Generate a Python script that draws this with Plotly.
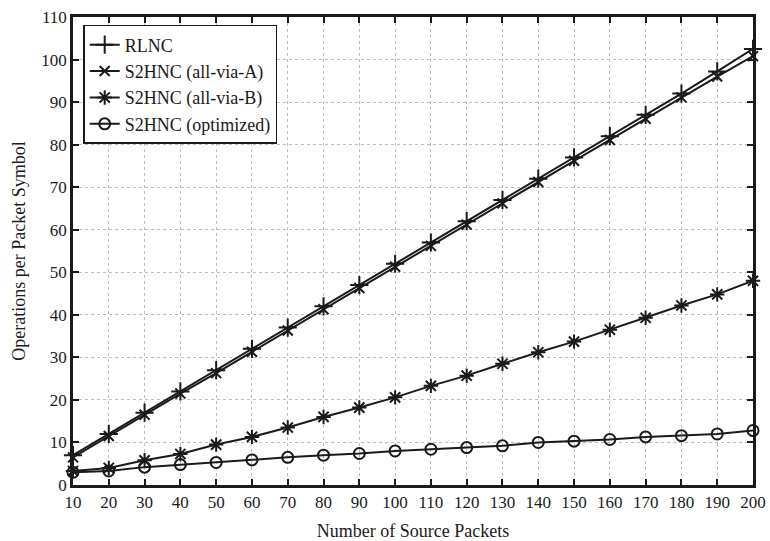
import plotly.graph_objects as go

packets = [10, 20, 30, 40, 50, 60, 70, 80, 90, 100, 110, 120, 130, 140, 150, 160, 170, 180, 190, 200]
rlnc = [7, 12, 17, 22, 27, 32, 37, 42, 47, 52, 57, 62, 67, 72, 77, 82, 87, 92, 97.2, 102.5]
via_a = [6.5, 11.5, 16.5, 21.5, 26.3, 31.3, 36.3, 41.3, 46.3, 51.3, 56.2, 61.2, 66.2, 71.2, 76.2, 81.1, 86.1, 91.1, 96, 100.8]
via_b = [3.3, 4.0, 5.8, 7.3, 9.5, 11.3, 13.5, 16.0, 18.2, 20.6, 23.3, 25.7, 28.5, 31.2, 33.7, 36.5, 39.3, 42.2, 44.8, 48.0]
optimized = [3.0, 3.3, 4.2, 4.8, 5.3, 5.9, 6.5, 7.0, 7.4, 8.0, 8.4, 8.8, 9.2, 10.0, 10.3, 10.7, 11.3, 11.6, 12.0, 12.8]

names = ["RLNC", "S2HNC (all-via-A)", "S2HNC (all-via-B)", "S2HNC (optimized)"]
series = [rlnc, via_a, via_b, optimized]
symbols = ["cross-thin", "x-thin", "asterisk", "circle-open"]
sizes = [13, 10, 12, 11]

ink = "#1a1a1a"
fig = go.Figure()
for name, ys, sym, sz in zip(names, series, symbols, sizes):
    fig.add_trace(go.Scatter(
        x=packets, y=ys, name=name, mode="lines+markers",
        line=dict(color=ink, width=2),
        marker=dict(symbol=sym, size=sz, color=ink, line=dict(color=ink, width=2)),
        cliponaxis=False,
    ))

font = "Liberation Serif, Times New Roman, serif"
axis_common = dict(
    showline=True, linecolor=ink, linewidth=2.5, mirror="ticks",
    ticks="inside", ticklen=6, tickwidth=2, tickcolor=ink,
    showgrid=True, gridcolor="#bdbdbd", griddash="dot", gridwidth=1,
    zeroline=False, tickfont=dict(family=font, size=17, color=ink),
    automargin=False,
)
fig.update_xaxes(range=[10, 200], tickvals=packets, ticklabelstandoff=0,
                 title=dict(text="Number of Source Packets", font=dict(family=font, size=18, color=ink), standoff=30), **axis_common)
fig.update_yaxes(range=[0, 110], tickvals=list(range(0, 111, 10)),
                 title=dict(text="Operations per Packet Symbol", font=dict(family=font, size=18, color=ink), standoff=12), **axis_common)

fig.update_layout(
    width=770, height=541,
    margin=dict(l=73, r=17, t=17, b=56),
    plot_bgcolor="white", paper_bgcolor="white",
    font=dict(family=font, size=18, color=ink),
    legend=dict(x=0.015, y=0.983, xanchor="left", yanchor="top",
                bgcolor="white", bordercolor=ink, borderwidth=1.5,
                font=dict(family=font, size=18, color=ink),
                tracegroupgap=0, itemwidth=30),
)
fig.write_html("out.html")
